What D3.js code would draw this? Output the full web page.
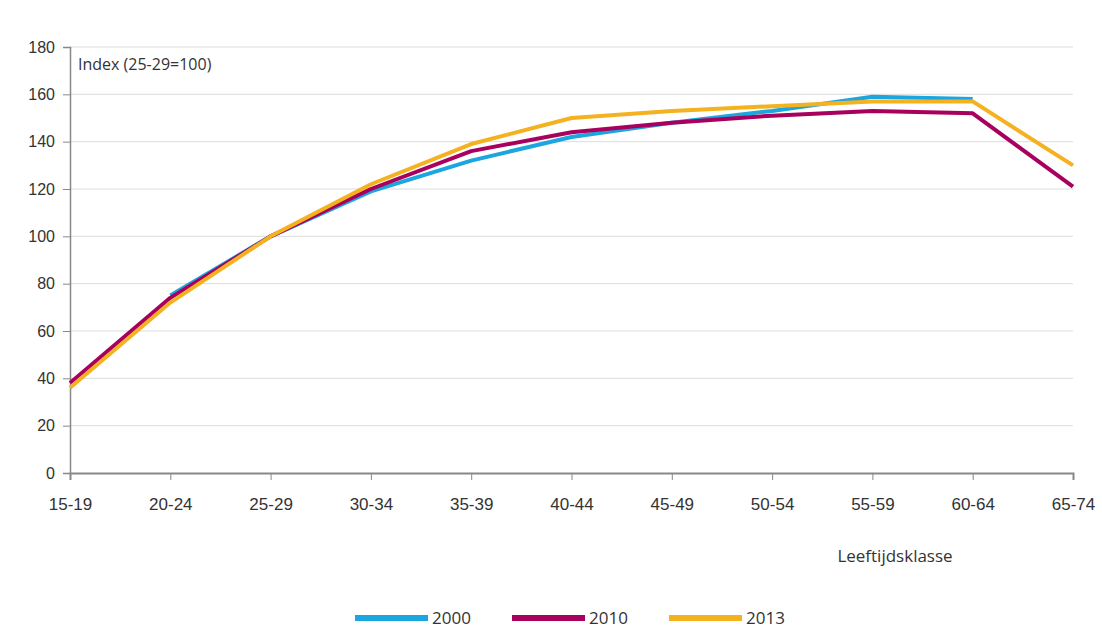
<!DOCTYPE html>
<html>
<head>
<meta charset="utf-8">
<script src="https://cdn.jsdelivr.net/npm/d3@7"></script>
<style>
  body { margin: 0; background: #fff; }
  svg { display: block; font-family: "Open Sans", sans-serif; }
</style>
</head>
<body>
<div id="chart"></div>
<script>
var categories = ["15-19", "20-24", "25-29", "30-34", "35-39", "40-44", "45-49", "50-54", "55-59", "60-64", "65-74"];
var yTicks = [0, 20, 40, 60, 80, 100, 120, 140, 160, 180];

// null = no value for that age class
var values2000 = [null, 75, 100, 119, 132, 142, 148, 153, 159, 158, null];
var values2010 = [38, 74, 100, 120, 136, 144, 148, 151, 153, 152, 121];
var values2013 = [36, 72, 100, 122, 139, 150, 153, 155, 157, 157, 130];

var series = [
  { name: "2000", color: "#1ba6df", values: values2000 },
  { name: "2010", color: "#a8005e", values: values2010 },
  { name: "2013", color: "#f4b120", values: values2013 }
];

var width = 1102, height = 630;
var margin = { left: 70, right: 29, top: 47, bottom: 157 };

var svg = d3.select("#chart").append("svg")
  .attr("width", width)
  .attr("height", height);

var x = d3.scalePoint()
  .domain(categories)
  .range([margin.left, width - margin.right]);

var y = d3.scaleLinear()
  .domain([0, 180])
  .range([height - margin.bottom, margin.top]);

// gridlines
svg.append("g")
  .selectAll("line")
  .data(yTicks.filter(function(d) { return d > 0; }))
  .enter().append("line")
  .attr("x1", margin.left)
  .attr("x2", width - margin.right)
  .attr("y1", function(d) { return y(d); })
  .attr("y2", function(d) { return y(d); })
  .attr("stroke", "#dcdcdc")
  .attr("stroke-width", 1);

// y axis
var yAxis = svg.append("g")
  .attr("transform", "translate(" + margin.left + ",0)")
  .call(d3.axisLeft(y).tickValues(yTicks).tickSize(7).tickPadding(8));
yAxis.select(".domain").attr("stroke", "#888").attr("stroke-width", 1.5);
yAxis.selectAll(".tick line").attr("stroke", "#888");
yAxis.selectAll("text").attr("font-size", 16).attr("fill", "#333");

// x axis
var xAxis = svg.append("g")
  .attr("transform", "translate(0," + y(0) + ")")
  .call(d3.axisBottom(x).tickSize(7).tickPadding(18));
xAxis.select(".domain").attr("stroke", "#888").attr("stroke-width", 2);
xAxis.selectAll(".tick line").attr("stroke", "#888");
xAxis.selectAll("text").attr("font-size", 17).attr("fill", "#333");

// lines
var line = d3.line()
  .defined(function(d) { return d != null; })
  .x(function(d, i) { return x(categories[i]); })
  .y(function(d) { return y(d); });

svg.append("g")
  .selectAll("path")
  .data(series)
  .enter().append("path")
  .attr("d", function(s) { return line(s.values); })
  .attr("fill", "none")
  .attr("stroke", function(s) { return s.color; })
  .attr("stroke-width", 4)
  .attr("stroke-linejoin", "round");

// labels
svg.append("text")
  .attr("x", margin.left + 8)
  .attr("y", 70)
  .attr("font-size", 16)
  .attr("fill", "#333")
  .text("Index (25-29=100)");

svg.append("text")
  .attr("x", 895)
  .attr("y", 562)
  .attr("text-anchor", "middle")
  .attr("font-size", 17)
  .attr("fill", "#333")
  .text("Leeftijdsklasse");

// legend
var legend = svg.append("g")
  .selectAll("g")
  .data(series)
  .enter().append("g")
  .attr("transform", function(d, i) { return "translate(" + (355 + i * 157) + ",618)"; });

legend.append("line")
  .attr("x1", 0).attr("x2", 73)
  .attr("stroke", function(d) { return d.color; })
  .attr("stroke-width", 6);

legend.append("text")
  .attr("x", 77)
  .attr("y", 6)
  .attr("font-size", 17)
  .attr("fill", "#333")
  .text(function(d) { return d.name; });
</script>
</body>
</html>
